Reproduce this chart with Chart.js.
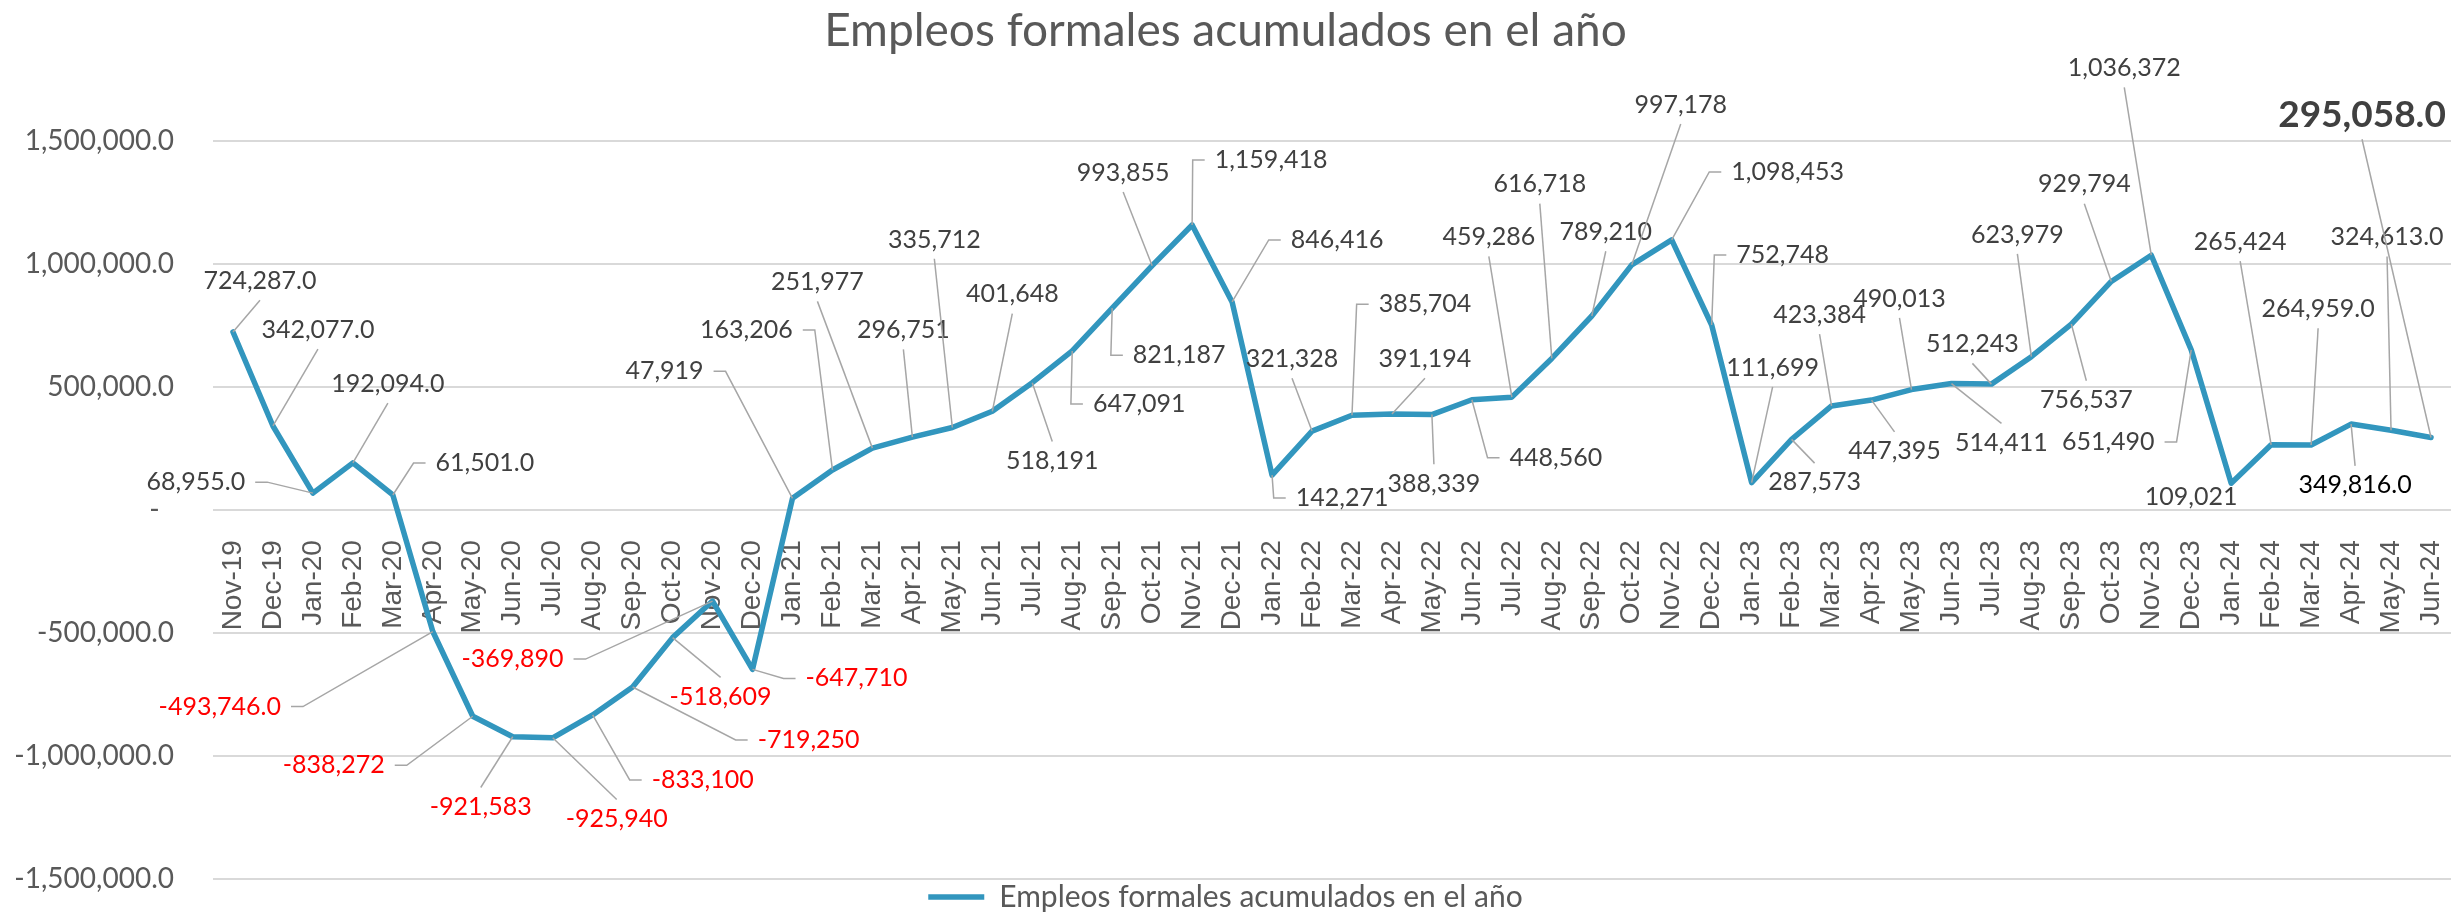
<!DOCTYPE html>
<html>
<head>
<meta charset="utf-8">
<title>Empleos formales acumulados en el año</title>
<script src="https://cdn.jsdelivr.net/npm/chart.js@4.4.1/dist/chart.umd.min.js"></script>
<style>
  html, body { margin: 0; padding: 0; background: #fff; }
</style>
</head>
<body>
<canvas id="chartEmpleos" width="2451" height="916"></canvas>
<script>
// Empleos formales acumulados en el año (nov-19 a jun-24)

const MONTHS = [
  'Nov-19', 'Dec-19',
  'Jan-20', 'Feb-20', 'Mar-20', 'Apr-20', 'May-20', 'Jun-20',
  'Jul-20', 'Aug-20', 'Sep-20', 'Oct-20', 'Nov-20', 'Dec-20',
  'Jan-21', 'Feb-21', 'Mar-21', 'Apr-21', 'May-21', 'Jun-21',
  'Jul-21', 'Aug-21', 'Sep-21', 'Oct-21', 'Nov-21', 'Dec-21',
  'Jan-22', 'Feb-22', 'Mar-22', 'Apr-22', 'May-22', 'Jun-22',
  'Jul-22', 'Aug-22', 'Sep-22', 'Oct-22', 'Nov-22', 'Dec-22',
  'Jan-23', 'Feb-23', 'Mar-23', 'Apr-23', 'May-23', 'Jun-23',
  'Jul-23', 'Aug-23', 'Sep-23', 'Oct-23', 'Nov-23', 'Dec-23',
  'Jan-24', 'Feb-24', 'Mar-24', 'Apr-24', 'May-24', 'Jun-24'
];

const EMPLEOS = [
  724287, 342077,
  68955, 192094, 61501, -493746, -838272, -921583,
  -925940, -833100, -719250, -518609, -369890, -647710,
  47919, 163206, 251977, 296751, 335712, 401648,
  518191, 647091, 821187, 993855, 1159418, 846416,
  142271, 321328, 385704, 391194, 388339, 448560,
  459286, 616718, 789210, 997178, 1098453, 752748,
  111699, 287573, 423384, 447395, 490013, 514411,
  512243, 623979, 756537, 929794, 1036372, 651490,
  109021, 265424, 264959, 349816, 324613, 295058
];

const Y_TICKS = [-1500000, -1000000, -500000, 0, 500000, 1000000, 1500000];

const SERIES_NAME = 'Empleos formales acumulados en el año';

// etiquetas que en el original llevan un decimal
const ONE_DECIMAL = [0, 1, 2, 3, 4, 5, 52, 53, 54, 55];

// desplazamiento (px) de cada etiqueta respecto a su punto
const LABEL_OFFSETS = [
  [27, -51], [45, -96],
  [-117, -11], [35, -79], [92, -32], [-213, 75], [-139, 49], [-32, 70],
  [64, 81], [110, 65], [176, 53], [48, 59], [-200, 58], [104, 9],
  [-128, -127], [-86, -140], [-55, -166], [-9, -107], [-18, -188], [20, -117],
  [20, 78], [67, 53], [67, 47], [-29, -93], [79, -65], [105, -62],
  [70, 23], [-20, -72], [73, -111], [33, -55], [2, 69], [84, 58],
  [-23, -160], [-12, -174], [14, -84], [49, -160], [116, -68], [71, -70],
  [21, -115], [23, 43], [-12, -91], [23, 51], [-12, -91], [50, 59],
  [-19, -40], [-14, -122], [15, 76], [-27, -97], [-27, -187], [-83, 92],
  [-40, 14], [-31, -203], [7, -136], [4, 61], [-4, -193], [-69, -322]
];

const LINE_COLOR = '#3296BE';
const TEXT_GREY = '#595959';
const LABEL_GREY = '#404040';
const LEADER_GREY = '#A6A6A6';

function fmt(v, dec) {
  return v.toLocaleString('en-US', {
    minimumFractionDigits: dec,
    maximumFractionDigits: dec
  });
}

// etiquetas de datos con líneas guía, al estilo de Excel
const leaderLabels = {
  id: 'leaderLabels',
  afterDatasetsDraw(chart) {
    const ctx = chart.ctx;
    const pts = chart.getDatasetMeta(0).data;
    const last = pts.length - 1;

    ctx.save();
    ctx.textAlign = 'center';
    ctx.textBaseline = 'middle';

    pts.forEach((pt, i) => {
      const v = EMPLEOS[i];
      const big = i === last;
      const size = big ? 37 : 25;
      ctx.font = (big ? 'bold ' : '') + size + 'px Lato';

      const txt = fmt(v, ONE_DECIMAL.includes(i) ? 1 : 0);
      const [dx, dy] = LABEL_OFFSETS[i];
      const cx = pt.x + dx;
      const cy = pt.y + dy;
      const w = ctx.measureText(txt).width;
      const hh = size * 0.37;
      const l = cx - w / 2, r = cx + w / 2, t = cy - hh, b = cy + hh;

      const gap = 10, tick = 12;
      let path = null;
      if (pt.x < l - 18) {
        path = [[l - gap, cy], [l - gap - tick, cy], [pt.x, pt.y]];
      } else if (pt.x > r + 18) {
        path = [[r + gap, cy], [r + gap + tick, cy], [pt.x, pt.y]];
      } else if (pt.y > b + gap + 6) {
        path = [[cx, b + gap], [pt.x, pt.y]];
      } else if (pt.y < t - gap - 6) {
        path = [[cx, t - gap], [pt.x, pt.y]];
      }

      if (path) {
        ctx.beginPath();
        ctx.strokeStyle = LEADER_GREY;
        ctx.lineWidth = 1.5;
        ctx.moveTo(path[0][0], path[0][1]);
        for (let k = 1; k < path.length; k++) ctx.lineTo(path[k][0], path[k][1]);
        ctx.stroke();
      }

      let color = v < 0 ? '#FF0000' : LABEL_GREY;
      if (i === 53) color = '#000000';
      ctx.fillStyle = color;
      ctx.fillText(txt, cx, cy);
    });

    ctx.restore();
  }
};

new Chart(document.getElementById('chartEmpleos'), {
  type: 'line',
  data: {
    labels: MONTHS,
    datasets: [{
      label: SERIES_NAME,
      data: EMPLEOS,
      borderColor: LINE_COLOR,
      backgroundColor: LINE_COLOR,
      borderWidth: 5.5,
      borderJoinStyle: 'round',
      borderCapStyle: 'round',
      pointRadius: 0,
      pointHoverRadius: 0,
      tension: 0,
      fill: false
    }]
  },
  options: {
    responsive: false,
    animation: false,
    devicePixelRatio: 1,
    layout: { padding: 0 },
    plugins: {
      title: {
        display: true,
        text: SERIES_NAME,
        color: TEXT_GREY,
        font: { family: 'Lato', size: 46, weight: 'normal', lineHeight: 1.2 },
        padding: { top: 4, bottom: 82 }
      },
      legend: {
        position: 'bottom',
        maxHeight: 37,
        labels: {
          color: TEXT_GREY,
          font: { family: 'Lato', size: 30 },
          usePointStyle: true,
          pointStyle: 'line',
          pointStyleWidth: 56,
          padding: 3
        }
      },
      tooltip: { enabled: false }
    },
    scales: {
      x: {
        position: { y: 0 },
        offset: true,
        grid: { display: false },
        border: { display: false },
        afterFit: s => { s.paddingLeft = 0; s.paddingRight = 0; },
        ticks: {
          color: TEXT_GREY,
          font: { family: 'Liberation Sans', size: 28 },
          autoSkip: false,
          minRotation: 90,
          maxRotation: 90,
          padding: 22
        }
      },
      y: {
        min: Y_TICKS[0],
        max: Y_TICKS[Y_TICKS.length - 1],
        afterBuildTicks: s => { s.ticks = Y_TICKS.map(v => ({ value: v })); },
        afterFit: s => {
          s.width = 213;
          s.paddingTop = 0;
          s.paddingBottom = 0;
        },
        grid: { color: '#D9D9D9', lineWidth: 2, drawTicks: false },
        border: { display: false },
        ticks: {
          color: TEXT_GREY,
          font: { family: 'Lato', size: 28 },
          padding: 39,
          callback: v => v === 0 ? '-  ' : fmt(v, 1)
        }
      }
    }
  },
  plugins: [leaderLabels]
});
</script>
</body>
</html>
